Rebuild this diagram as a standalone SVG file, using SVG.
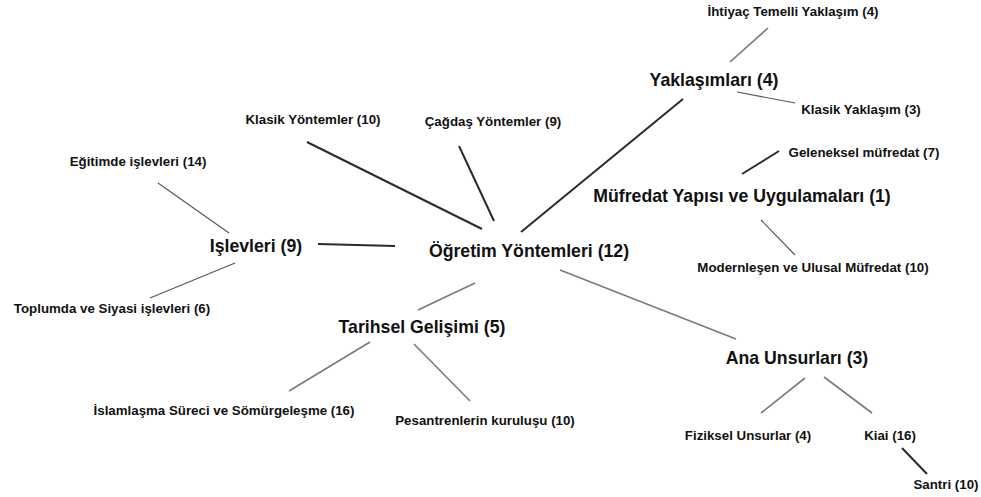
<svg xmlns="http://www.w3.org/2000/svg" width="981" height="497" viewBox="0 0 981 497">
<style>
text{font-family:"Liberation Sans",Arial,sans-serif;font-weight:bold;fill:#111;text-anchor:middle}
.m{font-size:17.7px}
.c{font-size:13.3px}
.d{stroke:#2a2a2a;stroke-width:2;fill:none}
.g{stroke:#7a7a7a;stroke-width:1.6;fill:none}
.t{stroke:#555;stroke-width:1.1;fill:none}
</style>
<rect width="981" height="497" fill="#fff"/>
<g id="connectors">
<line class="d" x1="318" y1="244" x2="395" y2="246"/>
<line class="t" x1="158" y1="183" x2="229" y2="233"/>
<line class="t" x1="150" y1="298" x2="235" y2="263"/>
<line class="d" x1="307" y1="142" x2="482" y2="229"/>
<line class="d" x1="459" y1="146" x2="494" y2="221"/>
<line class="d" x1="521" y1="232" x2="683" y2="99"/>
<line class="g" x1="768" y1="28" x2="730" y2="62"/>
<line class="t" x1="737" y1="92" x2="795" y2="103"/>
<line class="d" x1="742" y1="174" x2="779" y2="151"/>
<line class="t" x1="761" y1="220" x2="795" y2="255"/>
<line class="g" x1="418" y1="310" x2="475" y2="283"/>
<line class="g" x1="289" y1="391" x2="370" y2="342"/>
<line class="g" x1="414" y1="344" x2="470" y2="401"/>
<line class="g" x1="560" y1="270" x2="736" y2="339"/>
<line class="g" x1="761" y1="413" x2="805" y2="378"/>
<line class="g" x1="824" y1="377" x2="872" y2="413"/>
<line class="d" x1="902" y1="448" x2="927" y2="474"/>
</g>
<g id="ogretim"><text class="m" x="529" y="257">Öğretim Yöntemleri (12)</text></g>
<g id="islevleri"><text class="m" x="256" y="252">Işlevleri (9)</text></g>
<g id="egitimde"><text class="c" x="138" y="166">Eğitimde işlevleri (14)</text></g>
<g id="toplumda"><text class="c" x="112" y="313">Toplumda ve Siyasi işlevleri (6)</text></g>
<g id="klasik-yontemler"><text class="c" x="313" y="124">Klasik Yöntemler (10)</text></g>
<g id="cagdas"><text class="c" x="493" y="126">Çağdaş Yöntemler (9)</text></g>
<g id="yaklasimlari"><text class="m" x="714" y="86">Yaklaşımları (4)</text></g>
<g id="ihtiyac"><text class="c" x="793" y="16">İhtiyaç Temelli Yaklaşım (4)</text></g>
<g id="klasik-yaklasim"><text class="c" x="861" y="114">Klasik Yaklaşım (3)</text></g>
<g id="mufredat"><text class="m" x="742" y="202">Müfredat Yapısı ve Uygulamaları (1)</text></g>
<g id="geleneksel"><text class="c" x="864" y="157">Geleneksel müfredat (7)</text></g>
<g id="modernlesen"><text class="c" x="813" y="272">Modernleşen ve Ulusal Müfredat (10)</text></g>
<g id="tarihsel"><text class="m" x="422" y="333">Tarihsel Gelişimi (5)</text></g>
<g id="islamlasma"><text class="c" x="224" y="415">İslamlaşma Süreci ve Sömürgeleşme (16)</text></g>
<g id="pesantren"><text class="c" x="485" y="425">Pesantrenlerin kuruluşu (10)</text></g>
<g id="ana"><text class="m" x="797" y="364">Ana Unsurları (3)</text></g>
<g id="fiziksel"><text class="c" x="748" y="440">Fiziksel Unsurlar (4)</text></g>
<g id="kiai"><text class="c" x="890" y="440">Kiai (16)</text></g>
<g id="santri"><text class="c" x="946" y="489">Santri (10)</text></g>
</svg>
